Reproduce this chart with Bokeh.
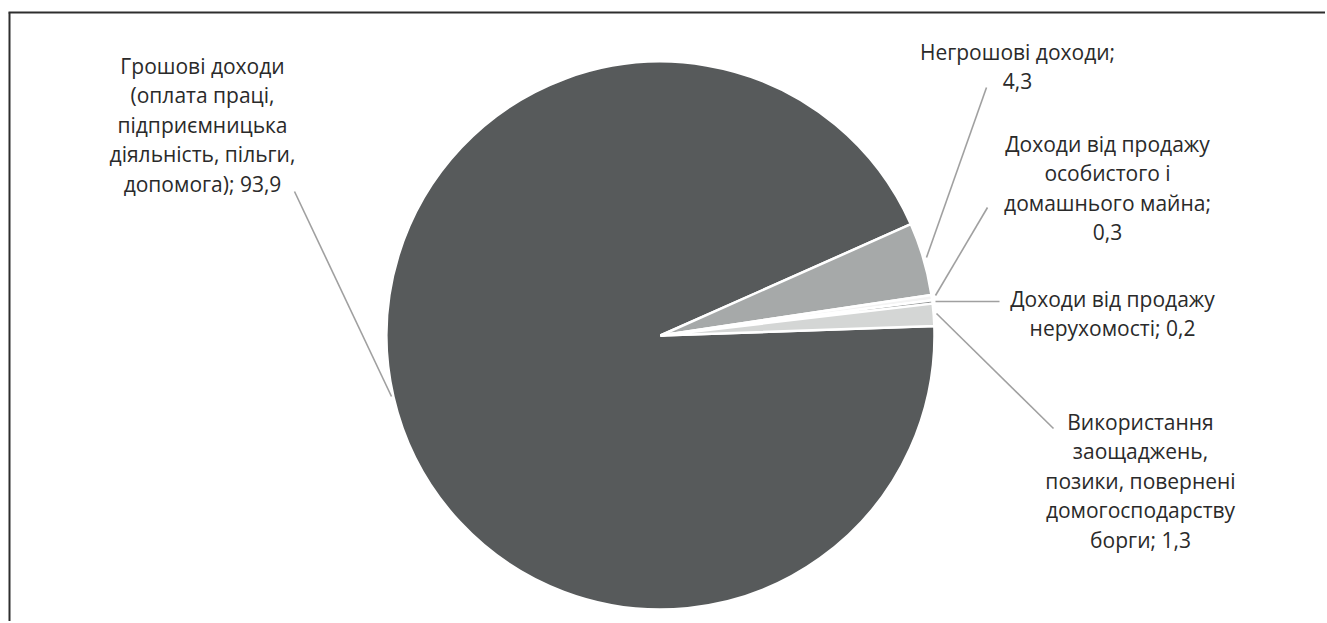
import math
from bokeh.plotting import figure
from bokeh.models import Range1d
from bokeh.core.properties import value
from bokeh.embed import file_html
from bokeh.resources import INLINE

# ---- data ----
categories = [
    "Грошові доходи (оплата праці, підприємницька діяльність, пільги, допомога)",
    "Негрошові доходи",
    "Доходи від продажу особистого і домашнього майна",
    "Доходи від продажу нерухомості",
    "Використання заощаджень, позики, повернені домогосподарству борги",
]
values = [93.9, 4.3, 0.3, 0.2, 1.3]
value_labels = ["93,9", "4,3", "0,3", "0,2", "1,3"]
label_lines = [
    ["Грошові доходи", "(оплата праці,", "підприємницька", "діяльність, пільги,", "допомога); " + value_labels[0]],
    ["Негрошові доходи;", value_labels[1]],
    ["Доходи від продажу", "особистого і", "домашнього майна;", value_labels[2]],
    ["Доходи від продажу", "нерухомості; " + value_labels[3]],
    ["Використання", "заощаджень,", "позики, повернені", "домогосподарству", "борги; " + value_labels[4]],
]
colors = ["#575a5b", "#a6a9a9", "#f4f4f4", "#8d9090", "#d4d6d5"]

# ---- layout (page pixel positions of the reference -> plot coords) ----
W, H = 1325, 621
def sx(X):
    return X
def sy(Y):
    return H - Y

cx, cy, R = sx(660), sy(335), 274
first_angle = math.radians(2.0)

total = sum(values)
starts, ends = [], []
cum = 0.0
for v in values:
    a_start = cum / total
    cum += v
    a_end = cum / total
    starts.append(first_angle - 2 * math.pi * a_end)
    ends.append(first_angle - 2 * math.pi * a_start)

p = figure(width=W, height=H, output_backend="svg", toolbar_location=None,
           x_range=Range1d(0, W), y_range=Range1d(0, H), min_border=0)
p.axis.visible = False
p.grid.visible = False
p.outline_line_color = None
p.background_fill_color = "white"
p.border_fill_color = "white"

# frame (top and left edges visible)
p.segment(x0=[sx(8), sx(9)], y0=[sy(12), sy(12)], x1=[W, sx(9)], y1=[sy(12), 0],
          line_color="#2e2e2e", line_width=2)

p.wedge(x=[cx] * len(values), y=[cy] * len(values), radius=R,
        start_angle=starts, end_angle=ends,
        fill_color=colors, line_color="white", line_width=2.5)

# leader lines
lx0 = [sx(391), sx(926), sx(935), sx(935), sx(936)]
ly0 = [sy(396), sy(257), sy(295), sy(301), sy(313)]
lx1 = [sx(294), sx(986), sx(987), sx(999), sx(1053)]
ly1 = [sy(191), sy(87), sy(207), sy(301), sy(428)]
p.segment(x0=lx0, y0=ly0, x1=lx1, y1=ly1, line_color="#a0a0a0", line_width=1.6)

# labels
centers_x = [202, 1017, 1107, 1112, 1140]
first_baseline = [65, 51, 143, 298, 421]
spacing = 29.5
tx, ty, tt = [], [], []
for i, lines in enumerate(label_lines):
    for j, s in enumerate(lines):
        tx.append(sx(centers_x[i]))
        ty.append(sy(first_baseline[i] + j * spacing))
        tt.append(s)
p.text(x=tx, y=ty, text=tt, text_align="center", text_baseline="alphabetic",
       text_font=value("Open Sans"), text_font_size="21px", text_color="#2a2a2a")

open("out.html", "w").write(file_html(p, INLINE))
